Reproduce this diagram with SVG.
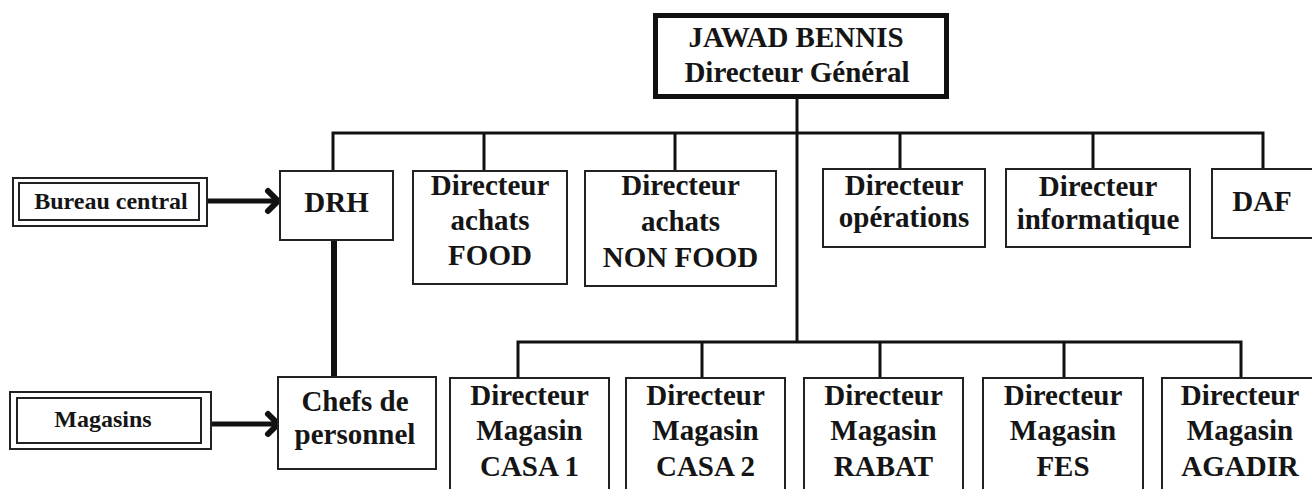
<svg xmlns="http://www.w3.org/2000/svg" width="1312" height="489" viewBox="0 0 1312 489">
<style>
.box{fill:#fff;stroke:#222;stroke-width:2}
.t{font-size:29px;fill:#151515;text-anchor:middle}
.s{font-size:24px}
.ln{fill:none;stroke:#111;stroke-width:3}
.thick{fill:none;stroke:#111;stroke-width:6}
</style>
<defs>
<marker id="chev" markerUnits="userSpaceOnUse" markerWidth="30" markerHeight="30" refX="0" refY="0" viewBox="-15 -15 30 30" orient="auto" overflow="visible">
<path d="M-10,-10 L0,0 L-10,10" fill="none" stroke="#111" stroke-width="6" stroke-linecap="round"/>
</marker>
</defs>
<rect width="1312" height="489" fill="#fff"/>
<g id="connectors">
<path class="ln" d="M797,97 V342"/>
<path class="ln" d="M333,171 V133 H1263 V169"/>
<path class="ln" d="M484,133 V171 M675,133 V171 M900,133 V169 M1093,133 V169"/>
<path class="ln" d="M518,378 V342 H1241 V378"/>
<path class="ln" d="M702,342 V378 M880,342 V378 M1064,342 V378"/>
<path class="thick" d="M334,240 V377"/>
<line x1="207" y1="201" x2="278" y2="201" stroke="#111" stroke-width="5" marker-end="url(#chev)"/>
<line x1="211" y1="424" x2="278" y2="424" stroke="#111" stroke-width="5" marker-end="url(#chev)"/>
</g>
<g font-family="Liberation Serif, serif" font-weight="bold">
<g id="jawad">
<rect x="655.5" y="15.5" width="291" height="81" fill="#fff" stroke="#111" stroke-width="5"/>
<text class="t" x="796" y="47">JAWAD BENNIS</text>
<text class="t" x="797" y="82">Directeur Général</text>
</g>
<g id="bureau">
<rect class="box" x="13" y="178" width="194" height="48" stroke-width="1.5"/>
<rect class="box" x="19" y="183" width="180" height="37" stroke-width="1.5"/>
<text class="t s" x="111" y="209">Bureau central</text>
</g>
<g id="magasins">
<rect class="box" x="10" y="392" width="201" height="57" stroke-width="1.5"/>
<rect class="box" x="17" y="398" width="184" height="45" stroke-width="1.5"/>
<text class="t s" x="103" y="427">Magasins</text>
</g>
<g id="drh">
<rect class="box" x="280" y="171" width="113" height="69"/>
<text class="t" x="336.5" y="212">DRH</text>
</g>
<g id="food">
<rect class="box" x="413" y="171" width="154" height="113"/>
<text class="t" x="490" y="195">Directeur</text>
<text class="t" x="490" y="230">achats</text>
<text class="t" x="490" y="265">FOOD</text>
</g>
<g id="nonfood">
<rect class="box" x="585" y="171" width="191" height="115"/>
<text class="t" x="680.5" y="195">Directeur</text>
<text class="t" x="680.5" y="231">achats</text>
<text class="t" x="680.5" y="267">NON FOOD</text>
</g>
<g id="operations">
<rect class="box" x="823" y="169" width="162" height="78"/>
<text class="t" x="904" y="195">Directeur</text>
<text class="t" x="904" y="227">opérations</text>
</g>
<g id="informatique">
<rect class="box" x="1006" y="169" width="184" height="78"/>
<text class="t" x="1098" y="196">Directeur</text>
<text class="t" x="1098" y="229">informatique</text>
</g>
<g id="daf">
<rect class="box" x="1212" y="169" width="110" height="69"/>
<text class="t" x="1262" y="211">DAF</text>
</g>
<g id="chefs">
<rect class="box" x="278" y="377" width="158" height="92"/>
<text class="t" x="355" y="411">Chefs de</text>
<text class="t" x="355" y="444">personnel</text>
</g>
<g id="casa1">
<rect class="box" x="450" y="378" width="159" height="130"/>
<text class="t" x="529.5" y="405">Directeur</text>
<text class="t" x="529.5" y="440">Magasin</text>
<text class="t" x="529.5" y="476">CASA 1</text>
</g>
<g id="casa2">
<rect class="box" x="626" y="378" width="159" height="130"/>
<text class="t" x="705.5" y="405">Directeur</text>
<text class="t" x="705.5" y="440">Magasin</text>
<text class="t" x="705.5" y="476">CASA 2</text>
</g>
<g id="rabat">
<rect class="box" x="804" y="378" width="159" height="130"/>
<text class="t" x="883.5" y="405">Directeur</text>
<text class="t" x="883.5" y="440">Magasin</text>
<text class="t" x="883.5" y="476">RABAT</text>
</g>
<g id="fes">
<rect class="box" x="983" y="378" width="160" height="130"/>
<text class="t" x="1063" y="405">Directeur</text>
<text class="t" x="1063" y="440">Magasin</text>
<text class="t" x="1063" y="476">FES</text>
</g>
<g id="agadir">
<rect class="box" x="1162" y="378" width="160" height="130"/>
<text class="t" x="1240" y="405">Directeur</text>
<text class="t" x="1240" y="440">Magasin</text>
<text class="t" x="1240" y="476">AGADIR</text>
</g>
</g>
</svg>
